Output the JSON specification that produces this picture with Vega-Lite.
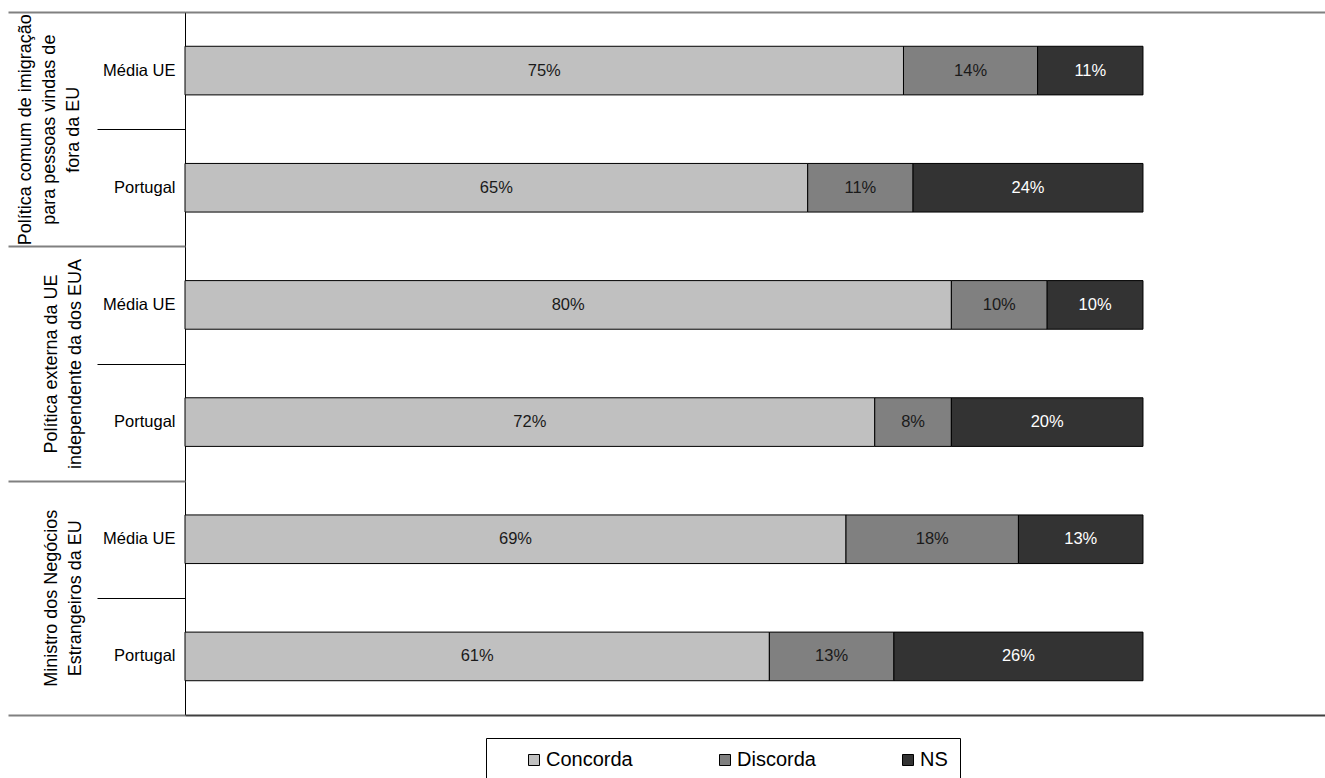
{
  "$schema": "https://vega.github.io/schema/vega-lite/v6.json",
  "width": 1140,
  "height": 703,
  "autosize": {"type": "none"},
  "padding": {"left": 185, "top": 12, "right": 0, "bottom": 63},
  "config": {"view": {"stroke": null}, "font": "Liberation Sans", "text": {"font": "Liberation Sans"}},
  "data": {"values": [
    {"grupo": "Política comum de imigração|para pessoas vindas de|fora da EU", "row": "imig|Média UE", "category": "Concorda", "value": 0.75},
    {"grupo": "Política comum de imigração|para pessoas vindas de|fora da EU", "row": "imig|Média UE", "category": "Discorda", "value": 0.14},
    {"grupo": "Política comum de imigração|para pessoas vindas de|fora da EU", "row": "imig|Média UE", "category": "NS", "value": 0.11},
    {"grupo": "Política comum de imigração|para pessoas vindas de|fora da EU", "row": "imig|Portugal", "category": "Concorda", "value": 0.65},
    {"grupo": "Política comum de imigração|para pessoas vindas de|fora da EU", "row": "imig|Portugal", "category": "Discorda", "value": 0.11},
    {"grupo": "Política comum de imigração|para pessoas vindas de|fora da EU", "row": "imig|Portugal", "category": "NS", "value": 0.24},
    {"grupo": "Política externa da UE|independente da dos EUA", "row": "ext|Média UE", "category": "Concorda", "value": 0.80},
    {"grupo": "Política externa da UE|independente da dos EUA", "row": "ext|Média UE", "category": "Discorda", "value": 0.10},
    {"grupo": "Política externa da UE|independente da dos EUA", "row": "ext|Média UE", "category": "NS", "value": 0.10},
    {"grupo": "Política externa da UE|independente da dos EUA", "row": "ext|Portugal", "category": "Concorda", "value": 0.72},
    {"grupo": "Política externa da UE|independente da dos EUA", "row": "ext|Portugal", "category": "Discorda", "value": 0.08},
    {"grupo": "Política externa da UE|independente da dos EUA", "row": "ext|Portugal", "category": "NS", "value": 0.20},
    {"grupo": "Ministro dos Negócios|Estrangeiros da EU", "row": "min|Média UE", "category": "Concorda", "value": 0.69},
    {"grupo": "Ministro dos Negócios|Estrangeiros da EU", "row": "min|Média UE", "category": "Discorda", "value": 0.18},
    {"grupo": "Ministro dos Negócios|Estrangeiros da EU", "row": "min|Média UE", "category": "NS", "value": 0.13},
    {"grupo": "Ministro dos Negócios|Estrangeiros da EU", "row": "min|Portugal", "category": "Concorda", "value": 0.61},
    {"grupo": "Ministro dos Negócios|Estrangeiros da EU", "row": "min|Portugal", "category": "Discorda", "value": 0.13},
    {"grupo": "Ministro dos Negócios|Estrangeiros da EU", "row": "min|Portugal", "category": "NS", "value": 0.26}
  ]},
  "layer": [
    {
      "encoding": {
        "y": {
          "field": "row", "type": "nominal", "sort": null,
          "scale": {"domain": ["imig|Média UE", "imig|Portugal", "ext|Média UE", "ext|Portugal", "min|Média UE", "min|Portugal"], "paddingInner": 0, "paddingOuter": 0},
          "axis": {"orient": "left", "title": null, "ticks": false, "domain": true, "domainColor": "#000", "domainWidth": 1, "grid": false,
                   "labelExpr": "split(datum.label, '|')[1]", "labelFont": "Liberation Sans", "labelFontSize": 16.5, "labelColor": "#000", "labelPadding": 10}
        }
      },
      "layer": [
        {
          "mark": {"type": "bar", "stroke": "#000", "strokeWidth": 1, "height": {"band": 0.415}},
          "encoding": {
            "x": {"field": "value", "type": "quantitative", "stack": "zero", "scale": {"domain": [0, 1.19], "nice": false, "zero": true}, "axis": null},
            "color": {
              "field": "category", "type": "nominal",
              "scale": {"domain": ["Concorda", "Discorda", "NS"], "range": ["#c0c0c0", "#808080", "#333333"]},
              "legend": {"orient": "none", "legendX": 301, "legendY": 726, "direction": "horizontal", "title": null,
                         "strokeColor": "#000", "fillColor": "#fff", "padding": 12, "symbolType": "square", "symbolSize": 121,
                         "symbolStrokeColor": "#000", "symbolStrokeWidth": 1, "labelFontSize": 20, "labelFont": "Liberation Sans",
                         "labelColor": "#000", "columnPadding": 56, "labelOffset": 2, "symbolOffset": 26}
            }
          }
        },
        {
          "transform": [
            {"stack": "value", "groupby": ["row"], "sort": [{"field": "category"}], "as": ["v0", "v1"]},
            {"fold": ["v0", "v1"], "as": ["edge", "pos"]}
          ],
          "mark": {"type": "text", "font": "Liberation Sans", "fontSize": 16.5, "align": "center", "baseline": "middle"},
          "encoding": {
            "x": {"aggregate": "mean", "field": "pos", "type": "quantitative"},
            "text": {"field": "value", "type": "quantitative", "format": ".0%"},
            "detail": {"field": "category"},
            "color": {"condition": {"test": "datum.category === 'NS'", "value": "#ffffff"}, "value": "#1a1a1a"}
          }
        }
      ]
    },
    {
      "mark": {"type": "point", "opacity": 0},
      "encoding": {
        "y": {
          "field": "row", "type": "nominal", "sort": null,
          "scale": {"domain": ["imig|Média UE", "imig|Portugal", "ext|Média UE", "ext|Portugal", "min|Média UE", "min|Portugal"], "paddingInner": 0, "paddingOuter": 0},
          "axis": {"orient": "left", "title": null, "labels": false, "domain": false, "ticks": true, "tickBand": "extent",
                   "tickSize": {"condition": {"test": "datum.extra || indexof(datum.value, 'Portugal') >= 0", "value": 177}, "value": 88},
                   "tickColor": {"condition": {"test": "datum.extra || indexof(datum.value, 'Portugal') >= 0", "value": "#808080"}, "value": "#000"},
                   "tickWidth": {"condition": {"test": "datum.extra || indexof(datum.value, 'Portugal') >= 0", "value": 2}, "value": 1},
                   "grid": true,
                   "gridColor": {"condition": {"test": "datum.extra", "value": "#808080"}, "value": "#404040"},
                   "gridWidth": 2,
                   "gridOpacity": {"condition": {"test": "datum.extra || datum.value === 'min|Portugal'", "value": 1}, "value": 0}}
        }
      }
    },
    {
      "mark": {"type": "point", "opacity": 0},
      "encoding": {
        "y": {
          "field": "grupo", "type": "nominal", "sort": null,
          "scale": {"domain": ["Política comum de imigração|para pessoas vindas de|fora da EU", "Política externa da UE|independente da dos EUA", "Ministro dos Negócios|Estrangeiros da EU"], "paddingInner": 0, "paddingOuter": 0},
          "axis": {"orient": "left", "title": null, "ticks": false, "domain": false, "grid": false,
                   "labelAngle": -90, "labelAlign": "center", "labelBaseline": "bottom",
                   "labelPadding": {"condition": {"test": "indexof(datum.value, 'imigra') >= 0", "value": 151}, "value": 125},
                   "labelExpr": "split(datum.label, '|')", "labelFont": "Liberation Sans", "labelFontSize": 18,
                   "labelLineHeight": 24, "labelLimit": 0, "labelColor": "#000"}
        }
      }
    }
  ],
  "resolve": {"scale": {"y": "independent"}, "axis": {"y": "independent"}}
}
